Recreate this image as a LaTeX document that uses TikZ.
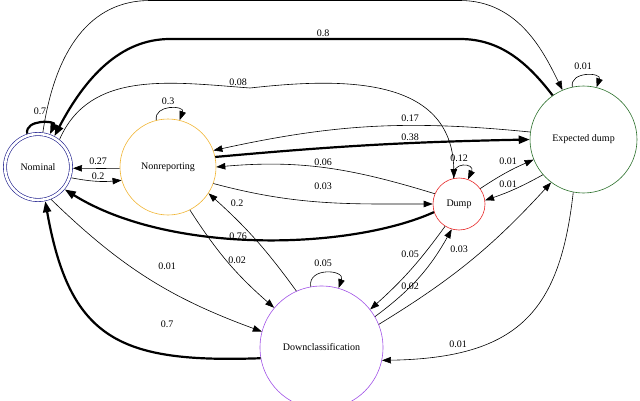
\documentclass[tikz,border=0pt]{standalone}
\usepackage{fontspec}
\setmainfont{Liberation Serif}
\usetikzlibrary{arrows.meta, positioning, calc}
\definecolor{nomblue}{RGB}{30,30,140}
\definecolor{nrorange}{RGB}{240,180,50}
\definecolor{dmpred}{RGB}{230,40,40}
\definecolor{edgreen}{RGB}{40,110,40}
\definecolor{dcpurple}{RGB}{160,80,230}
\tikzset{
  st/.style={circle, draw, line width=0.6pt, inner sep=0pt, font=\fontsize{10}{12}\selectfont},
  tr/.style={-{Triangle[length=9pt,width=6.5pt]}, line width=0.6pt},
  heavy/.style={-{Triangle[length=11pt,width=8pt]}, line width=2.2pt},
  lbl/.style={font=\fontsize{10}{12}\selectfont, inner sep=1pt}
}
\begin{document}
\begin{tikzpicture}[x=1pt, y=1pt]
  \useasboundingbox (0,0) rectangle (640,400);
  \clip (0,0) rectangle (640,400);
  % states
  \node[st, draw=nomblue, double, double distance=2.6pt, minimum size=66pt, outer sep=2pt] (nom) at (38,233) {Nominal};
  \node[st, draw=nrorange, minimum size=96pt] (nrep) at (168,233) {Nonreporting};
  \node[st, draw=dmpred, minimum size=52pt] (dump) at (459,196) {Dump};
  \node[st, draw=edgreen, minimum size=107pt] (edump) at (583.5,260.5) {Expected dump};
  \node[st, draw=dcpurple, minimum size=123pt] (dcls) at (321.5,52.5) {Downclassification};
  % self-loops
  \draw[heavy] (nom.108) .. controls +(100:15) and +(65:15) .. (nom.70);
  \draw[tr] (nrep.104) .. controls +(100:16) and +(70:16) .. (nrep.76);
  \draw[tr] (dump.102) .. controls +(100:18) and +(65:18) .. (dump.70);
  \draw[tr] (edump.102) .. controls +(100:16) and +(70:16) .. (edump.76);
  \draw[tr] (dcls.100) .. controls +(100:20) and +(70:20) .. (dcls.74);
  % long arcs over the top
  \draw[tr] (nom.82) .. controls (55,350) and (90,399.5) .. (150,399.5) -- (460,399.5)
    .. controls (520,399.5) and (545,345) .. (edump.113);
  \draw[heavy] (edump.125) .. controls (527,338) and (500,361) .. (460,361) -- (170,361)
    .. controls (120,361) and (85,322) .. (nom.62);
  \draw[tr] (nom.52) .. controls (90,330) and (170,318) .. (250,312)
    .. controls (340,322) and (452,325) .. (dump.101);
  % middle row
  \draw[tr] (edump.172) to[bend right=9] (nrep.20);
  \draw[heavy] (nrep.12) to[bend left=2] (edump.180);
  \draw[tr] (dump.157) to[out=163, in=5] (nrep.0);
  \draw[tr] (nrep.-20) to[out=-15, in=180] (dump.180);
  \draw[heavy] (dump.198) .. controls (350,150) and (170,145) .. (nom.-40);
  \draw[tr] (nrep.182) -- (nom.-2);
  \draw[tr] (nom.-18) to[bend right=8] (nrep.196);
  \draw[tr] (dump.36) to[bend left=5] (edump.202);
  \draw[tr] (edump.221) to[bend left=5] (dump.8);
  % to and from downclassification
  \draw[tr] (nrep.297) to[bend right=8] (dcls.140);
  \draw[tr] (dcls.114) to[bend right=6] (nrep.-33);
  \draw[tr] (nom.-68) to[bend right=12] (dcls.165);
  \draw[heavy] (dcls.190) to[out=182, in=-80, looseness=1.35] (nom.-78);
  \draw[tr] (dump.238) to[bend left=6] (dcls.38);
  \draw[tr] (dcls.30) to[bend right=12] (dump.254);
  \draw[tr] (dcls.22) to[bend right=8] (edump.233);
  \draw[tr] (edump.259) .. controls (560,90) and (520,42) .. (dcls.-12);
  % probabilities
  \node[lbl] (pNomNom) at (40,289) {0.7};
  \node[lbl] (pEdNom) at (323,367) {0.8};
  \node[lbl] (pNomDump) at (238,318) {0.08};
  \node[lbl] (pNrNr) at (168,299) {0.3};
  \node[lbl] (pEdNr) at (410,282) {0.17};
  \node[lbl] (pNrEd) at (410,263) {0.38};
  \node[lbl] (pDumpDump) at (459,242) {0.12};
  \node[lbl] (pEdEd) at (583,334) {0.01};
  \node[lbl] (pNrNom) at (98,239) {0.27};
  \node[lbl] (pNomNr) at (98,224) {0.2};
  \node[lbl] (pDumpNr) at (323,238) {0.06};
  \node[lbl] (pNrDump) at (323,214) {0.03};
  \node[lbl] (pDumpEd) at (508,239) {0.01};
  \node[lbl] (pEdDump) at (508,216) {0.01};
  \node[lbl] (pDcNr) at (237,197) {0.2};
  \node[lbl] (pDumpNom) at (238,164) {0.76};
  \node[lbl] (pNrDc) at (237,140) {0.02};
  \node[lbl] (pDumpDc) at (410,146) {0.05};
  \node[lbl] (pDcEd) at (459,151) {0.03};
  \node[lbl] (pNomDc) at (167,134) {0.01};
  \node[lbl] (pDcDc) at (323,137) {0.05};
  \node[lbl] (pDcDump) at (410,114) {0.02};
  \node[lbl] (pDcNom) at (167,76) {0.7};
  \node[lbl] (pEdDc) at (458,56) {0.01};
\end{tikzpicture}
\end{document}
